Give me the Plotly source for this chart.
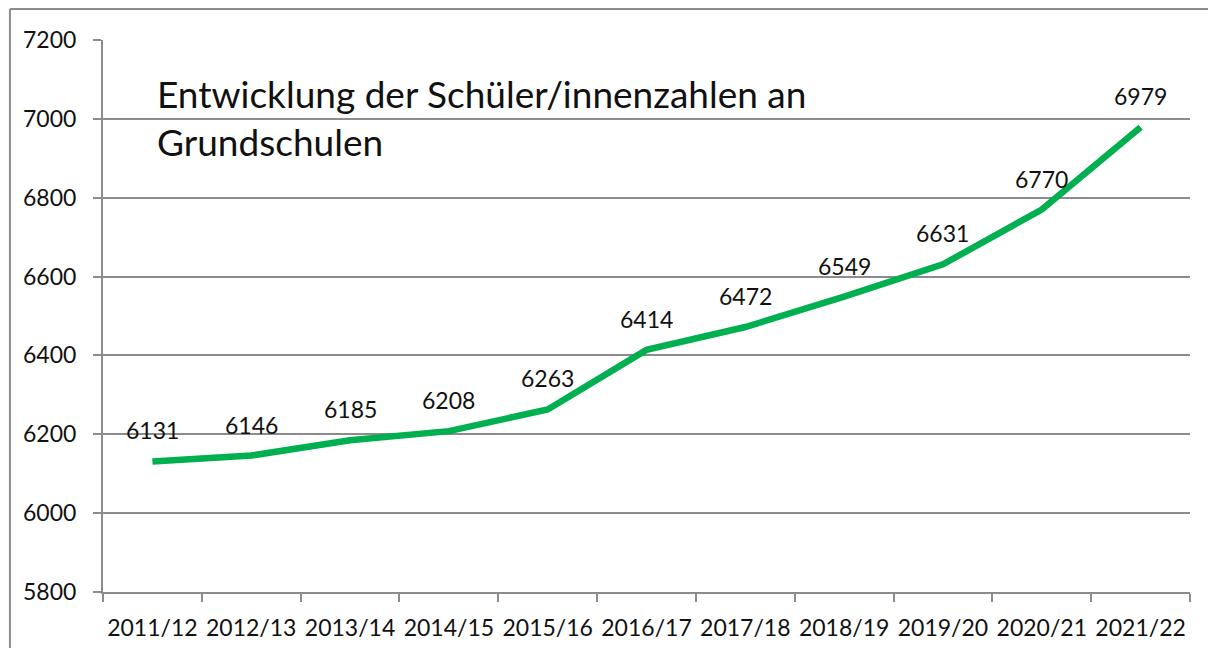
import plotly.graph_objects as go

years = ["2011/12", "2012/13", "2013/14", "2014/15", "2015/16", "2016/17",
         "2017/18", "2018/19", "2019/20", "2020/21", "2021/22"]
students = [6131, 6146, 6185, 6208, 6263, 6414, 6472, 6549, 6631, 6770, 6979]
y_ticks = [5800, 6000, 6200, 6400, 6600, 6800, 7000, 7200]
title_lines = ["Entwicklung der Schüler/innenzahlen an", "Grundschulen"]

FONT = "Lato"
GRID = "#8c8c8c"
TXT = "#111"

fig = go.Figure()
fig.add_trace(go.Scatter(
    x=years, y=students, mode="lines",
    line=dict(color="#00B050", width=6.5),
    hoverinfo="x+y", showlegend=False,
))

for x, v in zip(years, students):
    fig.add_annotation(x=x, y=v, text=str(v), showarrow=False,
                       yshift=31, font=dict(family=FONT, size=23, color=TXT))

fig.add_annotation(xref="paper", yref="paper", x=0.0478, y=0.947,
                   xanchor="left", yanchor="top", align="left",
                   text="<br>".join(title_lines), showarrow=False,
                   font=dict(family=FONT, size=37, color=TXT))

# outer chart border (only top and left edges visible in the reference)
fig.add_shape(type="line", xref="paper", yref="paper",
              x0=-0.0856, x1=2.0, y0=1.056, y1=1.056,
              line=dict(color="#8c8c8c", width=2))
fig.add_shape(type="line", xref="paper", yref="paper",
              x0=-0.0856, x1=-0.0856, y0=-1.0, y1=1.056,
              line=dict(color="#8c8c8c", width=2))

fig.update_layout(
    width=1200, height=640,
    margin=dict(l=95, r=18, t=32, b=56, autoexpand=False),
    paper_bgcolor="white", plot_bgcolor="white",
    font=dict(family=FONT, size=23, color=TXT),
)
fig.update_xaxes(
    type="category", tickson="boundaries", ticks="outside", ticklen=8,
    tickcolor=GRID, tickwidth=2, showline=True, linecolor=GRID, linewidth=2,
    showgrid=False, tickfont=dict(family=FONT, size=23, color=TXT),
    range=[-0.5, len(years) - 0.5], ticklabelstandoff=14, tickangle=0,
    automargin=False,
)
fig.update_yaxes(
    range=[5800, 7200], tickvals=y_ticks, ticks="outside", ticklen=8,
    tickcolor=GRID, tickwidth=2, showline=True, linecolor=GRID, linewidth=2,
    showgrid=True, gridcolor=GRID, gridwidth=2, zeroline=False,
    tickfont=dict(family=FONT, size=23, color=TXT), ticklabelstandoff=12,
    automargin=False,
)

fig.write_html("out.html")
